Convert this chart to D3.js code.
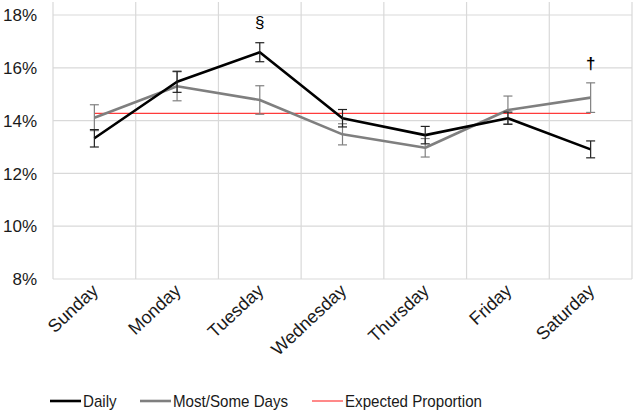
<!DOCTYPE html>
<html><head><meta charset="utf-8">
<script src="https://cdn.jsdelivr.net/npm/d3@7"></script>
<style>body{margin:0;background:#fff}svg{display:block;font-family:"Liberation Sans",Arial,sans-serif}</style>
</head><body><svg id="c" width="634" height="413"></svg>
<script>
const days = ["Sunday","Monday","Tuesday","Wednesday","Thursday","Friday","Saturday"];
const daily = [13.33, 15.47, 16.59, 14.09, 13.45, 14.09, 12.91];
const dailyErr = [0.33, 0.40, 0.36, 0.33, 0.33, 0.23, 0.32];
const most = [14.11, 15.30, 14.78, 13.48, 12.97, 14.40, 14.87];
const mostErr = [0.49, 0.55, 0.54, 0.40, 0.35, 0.53, 0.56];
const expected = 14.27;
const yTicks = [8,10,12,14,16,18];
const marks = [{day:"Tuesday", sym:"§", val:17.75},{day:"Saturday", sym:"†", val:16.2}];

const svg = d3.select("#c");
const L=53, R=632, T=15, B=279;
const x = d3.scaleBand().domain(days).range([L,R]);
const y = d3.scaleLinear().domain([8,18]).range([B,T]);
const cx = d => x(d)+x.bandwidth()/2;

// grid
svg.append("g").selectAll("line").data(yTicks).join("line")
  .attr("x1",L).attr("x2",R).attr("y1",d=>y(d)).attr("y2",d=>y(d))
  .attr("stroke","#d9d9d9").attr("stroke-width",1.2);
const vx = days.map(d=>x(d)).concat([R]);
svg.append("g").selectAll("line").data(vx).join("line")
  .attr("x1",d=>d).attr("x2",d=>d).attr("y1",2).attr("y2",B)
  .attr("stroke","#d9d9d9").attr("stroke-width",1.2);

// y labels
svg.append("g").selectAll("text").data(yTicks).join("text")
  .attr("x",37).attr("y",d=>y(d)).attr("dy","0.36em").attr("text-anchor","end")
  .attr("font-size",17).attr("fill","#1a1a1a").text(d=>d+"%");

// x labels
svg.append("g").selectAll("text").data(days).join("text")
  .attr("transform",d=>`translate(${cx(d)+5},${292}) rotate(-43)`)
  .attr("text-anchor","end").attr("font-size",18).attr("fill","#1a1a1a").text(d=>d);

// expected
svg.append("line").attr("x1",cx(days[0])).attr("x2",cx(days[6]))
  .attr("y1",y(expected)).attr("y2",y(expected)).attr("stroke","#ff3b3b").attr("stroke-width",1.2);

function series(vals, errs, color, ecolor){
  const g = svg.append("g");
  g.append("path").datum(vals).attr("fill","none").attr("stroke",color).attr("stroke-width",2.6)
    .attr("stroke-linejoin","round")
    .attr("d", d3.line().x((v,i)=>cx(days[i])).y(v=>y(v)));
  const eb = g.selectAll("g").data(vals).join("g");
  eb.append("line").attr("x1",(v,i)=>cx(days[i])).attr("x2",(v,i)=>cx(days[i]))
    .attr("y1",(v,i)=>y(v+errs[i])).attr("y2",(v,i)=>y(v-errs[i])).attr("stroke",ecolor).attr("stroke-width",1.2);
  [1,-1].forEach(s=>{
    eb.append("line").attr("x1",(v,i)=>cx(days[i])-4.5).attr("x2",(v,i)=>cx(days[i])+4.5)
      .attr("y1",(v,i)=>y(v+s*errs[i])).attr("y2",(v,i)=>y(v+s*errs[i])).attr("stroke",ecolor).attr("stroke-width",1.2);
  });
}
series(most, mostErr, "#7f7f7f", "#808080");
series(daily, dailyErr, "#000", "#222");

// significance marks
svg.append("g").selectAll("text").data(marks).join("text")
  .attr("x",d=>cx(d.day)).attr("y",d=>y(d.val)).attr("dy","0.36em").attr("text-anchor","middle")
  .attr("font-size",17).attr("font-weight",d=>d.sym==="†"?"bold":"normal").attr("fill","#000").text(d=>d.sym);

// legend
const legend = [{n:"Daily",c:"#000",w:2.6,x:50},{n:"Most/Some Days",c:"#7f7f7f",w:2.6,x:140},{n:"Expected Proportion",c:"#ff3b3b",w:1.2,x:312}];
const lg = svg.append("g").selectAll("g").data(legend).join("g").attr("transform",d=>`translate(${d.x},401)`);
lg.append("line").attr("x1",0).attr("x2",31).attr("stroke",d=>d.c).attr("stroke-width",d=>d.w);
lg.append("text").attr("transform","translate(33,0) scale(0.89,1)").attr("dy","0.36em").attr("font-size",17).attr("fill","#1a1a1a").text(d=>d.n);
</script></body></html>
